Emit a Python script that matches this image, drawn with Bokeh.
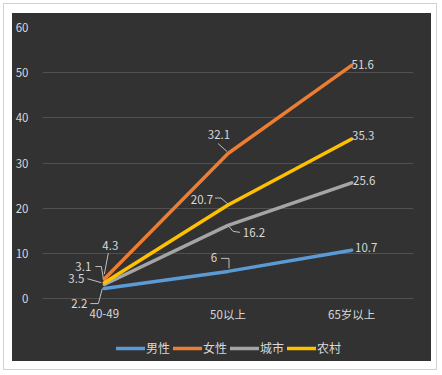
from bokeh.plotting import figure
from bokeh.models import Range1d, FixedTicker, Legend, LegendItem, ColumnDataSource
from bokeh.layouts import column
from bokeh.embed import file_html
from bokeh.resources import INLINE
from bokeh.core.properties import value

# ---- data ----
categories = ["40-49", "50以上", "65岁以上"]
series_names = ["男性", "女性", "城市", "农村"]
male = [2.2, 6, 10.7]
female = [4.3, 32.1, 51.6]
city = [3.1, 16.2, 25.6]
rural = [3.5, 20.7, 35.3]
y_ticks = [0, 10, 20, 30, 40, 50, 60]

# ---- style ----
colors = ["#5B9BD5", "#ED7D31", "#A5A5A5", "#FFC000"]
BG = "#323232"
TXT = "#d9d9d9"
FONT = "Noto Sans CJK SC"
FRAME_W = 372
PLOT_H = 271          # pixel height of the 0..60 value band
BELOW_PX = 60         # extra frame pixels under 0 (category labels + legend)
X_LO, X_HI = -0.5, 2.5
PX_X = FRAME_W / (X_HI - X_LO)
PX_Y = PLOT_H / 60
Y_LO, Y_HI = -BELOW_PX / PX_Y, 60

# label offsets (screen px, down positive) and leader-line paths relative to each point
label_style = {
    "男性": ([(-25, 15), (-14, -14), (14.5, -3)],
             [[(-14, 15), (-6, 15), (-2, 0)], [(-7, -13), (1, -13), (1, -3)], None]),
    "女性": ([(6, -34), (-9, -19), (11, -1)],
             [[(4, -26), (0, -5)], [(-10, -10), (-1, -2)], None]),
    "城市": ([(-21, -18), (26, 7), (12.5, -2)],
             [[(-9, -18), (-3, -18), (-1, -6)], [(1, 1), (5, 6), (12, 7)], None]),
    "农村": ([(-28, -4), (-26, -6), (11.5, -4)],
             [[(-17, -4), (-3, 0)], [(-13, -7), (-7, -7), (0, -1)], None]),
}

series = [male, female, city, rural]
xs = list(range(len(categories)))

p = figure(width=419, height=348, x_range=Range1d(X_LO, X_HI), y_range=Range1d(Y_LO, Y_HI),
           output_backend="svg", toolbar_location=None,
           min_border_left=29, min_border_right=18, min_border_top=14, min_border_bottom=3,
           background_fill_color=BG, border_fill_color=BG)
p.outline_line_color = None
p.margin = (9, 5, 8, 8)
p.styles = {"background-color": BG}

# axes
p.xaxis.visible = False
p.yaxis.ticker = FixedTicker(ticks=y_ticks)
p.yaxis.axis_line_color = None
p.yaxis.major_tick_line_color = None
p.yaxis.minor_tick_line_color = None
p.yaxis.major_label_text_color = TXT
p.yaxis.major_label_text_font = FONT
p.yaxis.major_label_text_font_size = "11.5px"
p.yaxis.major_label_standoff = 8
p.xgrid.visible = False
p.ygrid.grid_line_color = "#505050"
p.ygrid.grid_line_width = 1

# category labels under the 0 line
p.text(x=xs, y=[0] * len(xs), text=categories, y_offset=15,
       text_align="center", text_baseline="middle", text_color=TXT,
       text_font=value(FONT), text_font_size="11.5px")

renderers = []
lx, ly, lt, lox, loy = [], [], [], [], []
leader_xs, leader_ys = [], []
for name, vals, col in zip(series_names, series, colors):
    r = p.line(xs, vals, line_color=col, line_width=3.5, line_join="round", line_cap="round")
    renderers.append(r)
    offs, leaders = label_style[name]
    for x, v, (dx, dy), ld in zip(xs, vals, offs, leaders):
        lx.append(x); ly.append(v); lt.append(f"{v:g}"); lox.append(dx); loy.append(dy)
        if ld:
            leader_xs.append([x + a / PX_X for a, b in ld])
            leader_ys.append([v - b / PX_Y for a, b in ld])

p.multi_line(leader_xs, leader_ys, line_color="#bfbfbf", line_width=1)
src = ColumnDataSource(dict(x=lx, y=ly, t=lt, ox=lox, oy=loy))
p.text(x="x", y="y", text="t", x_offset="ox", y_offset="oy", source=src,
       text_align="center", text_baseline="middle", text_color=TXT,
       text_font=value(FONT), text_font_size="11.5px")

legend = Legend(items=[LegendItem(label=n, renderers=[r]) for n, r in zip(series_names, renderers)],
                orientation="horizontal", location=(74, 2),
                background_fill_alpha=0, border_line_color=None,
                label_text_color=TXT, label_text_font=FONT, label_text_font_size="12px",
                glyph_width=29, glyph_height=14, label_standoff=1, spacing=3,
                padding=0, margin=0)
p.add_layout(legend, "center")

page = column(p, margin=(3, 0, 0, 3), styles={"border": "1px solid #d2d2d2"})

open("out.html", "w").write(file_html(page, INLINE))
